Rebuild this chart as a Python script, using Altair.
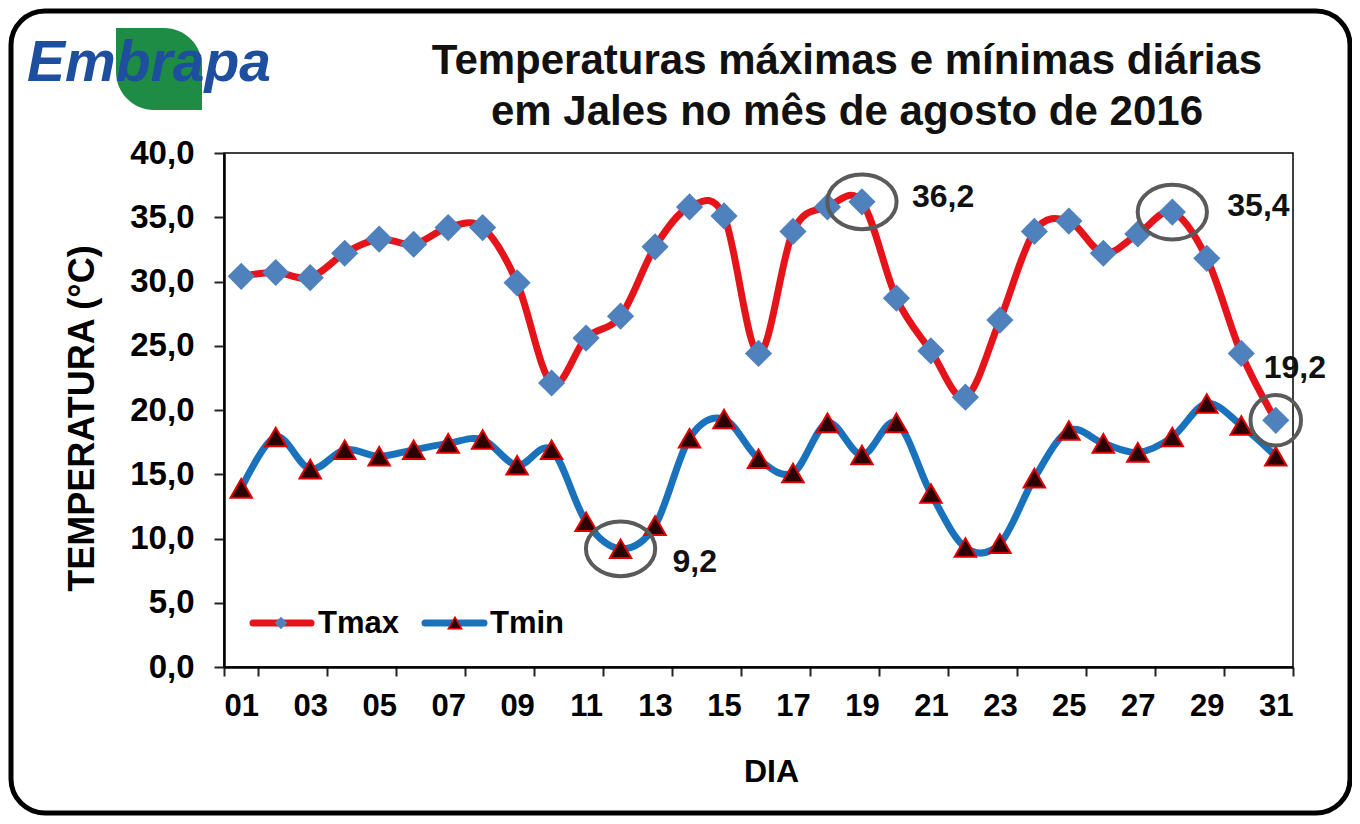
import altair as alt
import pandas as pd

# ---------------- data ----------------
days = list(range(1, 32))
tmax = [30.4, 30.7, 30.3, 32.2, 33.3, 32.9, 34.2, 34.2, 29.9, 22.1,
        25.6, 27.3, 32.7, 35.8, 35.1, 24.4, 33.9, 35.8, 36.2, 28.7,
        24.6, 21.0, 27.0, 33.9, 34.7, 32.2, 33.7, 35.4, 31.8, 24.4, 19.2]
tmin = [13.9, 17.9, 15.4, 16.9, 16.4, 16.9, 17.4, 17.7, 15.7, 16.9,
        11.3, 9.2, 11.0, 17.8, 19.3, 16.2, 15.1, 19.0, 16.5, 19.0,
        13.5, 9.3, 9.6, 14.7, 18.4, 17.4, 16.7, 17.9, 20.5, 18.8, 16.4]
series_names = ["Tmax", "Tmin"]
tick_days = list(range(1, 32, 2))
y_ticks = [0, 5, 10, 15, 20, 25, 30, 35, 40]
title_lines = ["Temperaturas máximas e mínimas diárias",
               "em Jales no mês de agosto de 2016"]

df = pd.DataFrame(
    {"day": days * 2,
     "series": ["Tmax"] * len(days) + ["Tmin"] * len(days),
     "value": tmax + tmin}
)

FONT = "Liberation Sans"
RED = "#E5141B"
BLUE = "#1A72BC"
DIAMOND = "#4F81BD"
TRI_FILL = "#2B0000"
TRI_STROKE = "#E00000"
GRAY = "#5A5A5A"

W, H = 1069, 514
PAD = {"left": 216, "top": 145, "right": 59, "bottom": 149}

x_enc = alt.X(
    "day:O",
    bandPosition=0.5,
    scale=alt.Scale(type="band", domain=days, paddingInner=0, paddingOuter=0),
    axis=alt.Axis(
        values=tick_days, tickBand="extent", labelAngle=0,
        labelExpr="isValid(datum.value) ? ((datum.value < 10 ? '0' : '') + datum.value) : ''",
        labelFont=FONT, labelFontSize=31, labelFontWeight="bold", labelColor="black",
        labelPadding=15, tickSize=9, tickColor="#222", tickWidth=2,
        domainColor="black", domainWidth=2.5, grid=False,
        title="DIA", titleFont=FONT, titleFontSize=32, titleFontWeight="bold",
        titleColor="black", titleX=547, titleY=104, titleBaseline="middle",
    ),
)
y_enc = alt.Y(
    "value:Q",
    scale=alt.Scale(domain=[0, 40], nice=False, zero=True),
    axis=alt.Axis(
        values=y_ticks,
        labelExpr="replace(format(datum.value, '.1f'), '.', ',')",
        labelFont=FONT, labelFontSize=33, labelFontWeight="bold", labelColor="black",
        labelPadding=20, tickSize=10, tickColor="#222", tickWidth=2,
        domainColor="black", domainWidth=2.5, grid=False,
        title="TEMPERATURA (°C)", titleFont=FONT, titleFontSize=36,
        titleFontWeight="bold", titleColor="black",
        titleX=-142, titleY=265, titleBaseline="middle", titleAngle=-90,
    ),
)

base = alt.Chart(df)

one = alt.Data(values=[{"k": 1}])

# outer rounded frame
frame = alt.Chart(one).mark_rect(
    fill="transparent", stroke="black", strokeWidth=5, cornerRadius=34
).encode(x=alt.value(-213), x2=alt.value(1126), y=alt.value(-142), y2=alt.value(660))

# logo
leaf = alt.Chart(one).mark_rect(
    color="#1E8C45", cornerRadiusTopRight=38, cornerRadiusBottomLeft=38
).encode(x=alt.value(116 - 224), x2=alt.value(202 - 224), y=alt.value(28 - 153), y2=alt.value(110 - 153))
logo = alt.Chart(one).mark_text(
    text="Embrapa", font=FONT, fontSize=57, fontWeight="bold", fontStyle="italic",
    color="#1D4F9E", align="left", baseline="alphabetic"
).encode(x=alt.value(27 - 224), y=alt.value(81 - 153))

# title
t1 = alt.Chart(one).mark_text(
    text=title_lines[0], font=FONT, fontSize=42, fontWeight="bold", color="#111",
    align="center", baseline="alphabetic"
).encode(x=alt.value(847 - 224), y=alt.value(74 - 153))
t2 = alt.Chart(one).mark_text(
    text=title_lines[1], font=FONT, fontSize=42, fontWeight="bold", color="#111",
    align="center", baseline="alphabetic"
).encode(x=alt.value(847 - 224), y=alt.value(125 - 153))

lines = base.mark_line(interpolate="cardinal", strokeWidth=7, strokeCap="round").encode(
    x=x_enc, y=y_enc,
    color=alt.Color("series:N", scale=alt.Scale(domain=series_names, range=[RED, BLUE]), legend=None),
)
diamonds = base.transform_filter("datum.series == 'Tmax'").mark_point(
    shape="diamond", filled=True, size=740, fill=DIAMOND, opacity=1, strokeWidth=0
).encode(x=x_enc, y=y_enc)
triangles = base.transform_filter("datum.series == 'Tmin'").mark_point(
    shape="triangle-up", filled=True, size=460, fill=TRI_FILL, stroke=TRI_STROKE,
    strokeWidth=2, opacity=1
).encode(x=x_enc, y=y_enc)

ELLIPSE = "M-1,0A1,0.79,0,1,1,1,0A1,0.79,0,1,1,-1,0Z"
ellipses = base.transform_filter(
    "(datum.series == 'Tmin' && datum.day == 12) || (datum.series == 'Tmax' && (datum.day == 19 || datum.day == 28))"
).mark_point(shape=ELLIPSE, size=4800, filled=False, stroke=GRAY, strokeWidth=4, opacity=1).encode(x=x_enc, y=y_enc)
circle31 = base.transform_filter("datum.series == 'Tmax' && datum.day == 31").mark_point(
    shape="circle", size=2550, filled=False, stroke=GRAY, strokeWidth=4, opacity=1
).encode(x=x_enc, y=y_enc)


def label(series, day, dx, dy, align="left"):
    return base.transform_filter(
        f"datum.series == '{series}' && datum.day == {day}"
    ).transform_calculate(
        lab="replace(format(datum.value, '.1f'), '.', ',')"
    ).mark_text(
        font=FONT, fontSize=32, fontWeight="bold", color="#111",
        align=align, baseline="middle", dx=dx, dy=dy
    ).encode(x=x_enc, y=y_enc, text="lab:N")


labels = [label("Tmin", 12, 52, 13), label("Tmax", 19, 50, -5),
          label("Tmax", 28, 55, -6), label("Tmax", 31, -12, -52)]

# manual legend (inside plot, bottom-left)
leg_y = 470
leg_red = alt.Chart(one).mark_rule(color=RED, strokeWidth=7, strokeCap="round").encode(
    x=alt.value(29), x2=alt.value(87), y=alt.value(leg_y))
leg_dia = alt.Chart(one).mark_point(shape="diamond", filled=True, size=160, fill=DIAMOND, opacity=1,
                                    strokeWidth=0).encode(x=alt.value(57), y=alt.value(leg_y))
leg_t1 = alt.Chart(one).mark_text(text=series_names[0], font=FONT, fontSize=31, fontWeight="bold",
                                  color="black", align="left", baseline="middle").encode(
    x=alt.value(94), y=alt.value(leg_y + 1))
leg_blue = alt.Chart(one).mark_rule(color=BLUE, strokeWidth=7, strokeCap="round").encode(
    x=alt.value(201), x2=alt.value(260), y=alt.value(leg_y))
leg_tri = alt.Chart(one).mark_point(shape="triangle-up", filled=True, size=180, fill=TRI_FILL,
                                    stroke=TRI_STROKE, strokeWidth=1.5, opacity=1).encode(
    x=alt.value(231), y=alt.value(leg_y))
leg_t2 = alt.Chart(one).mark_text(text=series_names[1], font=FONT, fontSize=31, fontWeight="bold",
                                  color="black", align="left", baseline="middle").encode(
    x=alt.value(266), y=alt.value(leg_y + 1))

chart = alt.layer(
    frame, leaf, logo, t1, t2, lines, diamonds, triangles, ellipses, circle31, *labels,
    leg_red, leg_dia, leg_t1, leg_blue, leg_tri, leg_t2
).properties(
    width=W, height=H,
    autosize=alt.AutoSizeParams(type="none"),
    padding=PAD,
    background="white",
).configure_view(stroke="black", strokeWidth=1.5, fill="white")

chart.save("out.html", embed_options={"renderer": "svg", "actions": False})
